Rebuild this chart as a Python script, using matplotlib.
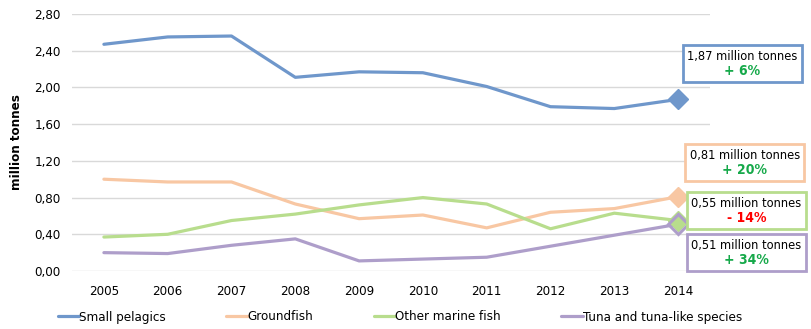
import matplotlib
matplotlib.use("Agg")
from matplotlib import pyplot as plt
from matplotlib.patches import Rectangle

# DATA #
years = ["2005", "2006", "2007", "2008", "2009", "2010", "2011", "2012", "2013", "2014"]
small_pelagics = [2.47, 2.55, 2.56, 2.11, 2.17, 2.16, 2.01, 1.79, 1.77, 1.87]
groundfish = [1.00, 0.97, 0.97, 0.73, 0.57, 0.61, 0.47, 0.64, 0.68, 0.81]
other_marine = [0.37, 0.40, 0.55, 0.62, 0.72, 0.80, 0.73, 0.46, 0.63, 0.55]
tuna = [0.20, 0.19, 0.28, 0.35, 0.11, 0.13, 0.15, 0.27, 0.39, 0.51]

series_names = ["Small pelagics", "Groundfish", "Other marine fish", "Tuna and tuna-like species"]
box_values = ["1,87 million tonnes", "0,81 million tonnes", "0,55 million tonnes", "0,51 million tonnes"]
box_changes = ["+ 6%", "+ 20%", "- 14%", "+ 34%"]
y_ticks = [0.0, 0.4, 0.8, 1.2, 1.6, 2.0, 2.4, 2.8]

# STYLE #
colors = ["#6F97CB", "#F8C7A3", "#B8DD8D", "#AE9ECA"]
green_txt = "#16A94A"
red_txt = "#FF0000"
plt.rcParams['font.family'] = 'DejaVu Sans'
plt.rcParams['font.stretch'] = 'condensed'
plt.rcParams['font.size'] = 9.5

fig = plt.figure(figsize=(8.11, 3.29), dpi=100)
ax = fig.add_axes([72/811, 58/329, 638/811, 257/329])

x = list(range(len(years)))
all_series = [small_pelagics, groundfish, other_marine, tuna]
for vals, col, name in zip(all_series, colors, series_names):
    ax.plot(x, vals, color=col, lw=2.3, label=name, solid_capstyle='round', zorder=3)

# diamonds on last point #
for i, (vals, col) in enumerate(zip(all_series, colors)):
    if i == 3:
        ax.plot(x[-1], vals[-1], marker='D', ms=10, mfc='none', mec=col, mew=2.2, zorder=5, clip_on=False)
    else:
        ax.plot(x[-1], vals[-1], marker='D', ms=10, mfc=col, mec=col, zorder=4, clip_on=False)

# axes #
ax.set_xlim(-0.5, 9.5)
ax.set_ylim(0, 2.8)
ax.set_xticks(x)
ax.set_xticklabels(years)
ax.set_yticks(y_ticks)
ax.set_yticklabels([("%.2f" % v).replace(".", ",") for v in y_ticks])
ax.tick_params(length=0, pad=8, labelsize=9.5)
ax.tick_params(axis='x', pad=10)
for s in ax.spines.values():
    s.set_visible(False)
ax.grid(axis='y', color="#D9D9D9", lw=1)
ax.set_axisbelow(True)
ax.set_ylabel("million tonnes", fontweight='bold', fontsize=9.5, labelpad=8)

# annotation boxes (left, bottom, width, height in data units) #
box_left = [9.075, 9.107, 9.138, 9.138]
box_bottom = [2.06, 0.98, 0.46, 0.0]
box_w = 1.87
box_h = 0.40
chg_colors = [green_txt, green_txt, red_txt, green_txt]
for bx, by, col, val, chg, cc in zip(box_left, box_bottom, colors, box_values, box_changes, chg_colors):
    ax.add_patch(Rectangle((bx, by), box_w, box_h, fc='white', ec=col, lw=2, clip_on=False, zorder=6))
    cx = bx + box_w / 2
    cy = by + box_h / 2
    ax.text(cx, cy + 0.075, val, ha='center', va='center', fontsize=9.2, color='black', zorder=7, clip_on=False)
    ax.text(cx, cy - 0.085, chg, ha='center', va='center', fontsize=10, color=cc,
            fontweight='bold', zorder=7, clip_on=False)

# legend #
leg = fig.legend(loc='center left', bbox_to_anchor=(46/811, 12/329), ncol=4, frameon=False,
                 handlelength=1.6, handletextpad=0.0, columnspacing=4.6, fontsize=9.5)
for line in leg.get_lines():
    line.set_linewidth(2.3)

fig.savefig("out.png", dpi=100)
